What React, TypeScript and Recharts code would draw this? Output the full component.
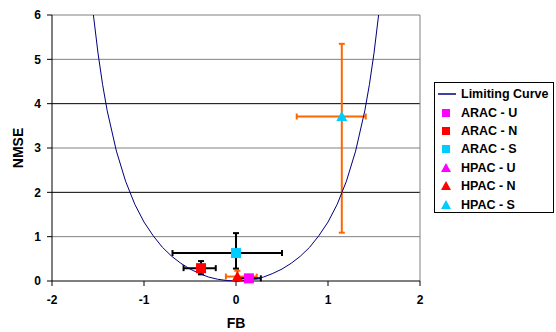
import React from "react";
import {
  ErrorBar,
  ReferenceLine,
  Scatter,
  ScatterChart,
  XAxis,
  YAxis,
} from "recharts";

// limiting curve (FB, NMSE)
const curveFB = [
  -1.55, -1.5, -1.45, -1.4, -1.3, -1.2, -1.1, -1.0, -0.9, -0.8, -0.7, -0.6, -0.5, -0.4, -0.3, -0.2, -0.1, 0,
  0.1, 0.2, 0.3, 0.4, 0.5, 0.6, 0.7, 0.8, 0.9, 1.0, 1.1, 1.2, 1.3, 1.4, 1.45, 1.5, 1.55,
];
const curveNMSE = [
  6.0, 5.14, 4.43, 3.84, 2.93, 2.25, 1.73, 1.33, 1.02, 0.76, 0.56, 0.4, 0.27, 0.17, 0.09, 0.04, 0.01, 0,
  0.01, 0.04, 0.09, 0.17, 0.27, 0.4, 0.56, 0.76, 1.02, 1.33, 1.73, 2.25, 2.93, 3.84, 4.43, 5.14, 6.0,
];

// model points: [FB, NMSE], error bars as [below, above]
const aracU = { fb: 0.14, nmse: 0.06, fbErr: [0.12, 0.13], nmseErr: [0.03, 0.03] };
const aracN = { fb: -0.38, nmse: 0.29, fbErr: [0.19, 0.16], nmseErr: [0.14, 0.16] };
const aracS = { fb: 0.0, nmse: 0.63, fbErr: [0.69, 0.5], nmseErr: [0.35, 0.45] };
const hpacN = { fb: 0.015, nmse: 0.1, fbErr: [0.125, 0.21], nmseErr: [0.05, 0.13] };
const hpacS = { fb: 1.15, nmse: 3.71, fbErr: [0.49, 0.26], nmseErr: [2.62, 1.64] };

const xTicks = [-2, -1, 0, 1, 2];
const yTicks = [0, 1, 2, 3, 4, 5, 6];

const FONT = "'Liberation Sans', Arial, sans-serif";

const curveData = curveFB.map((x, i) => ({ x, y: curveNMSE[i] }));
const pt = (p: typeof aracU) => [{ x: p.fb, y: p.nmse, ex: p.fbErr, ey: p.nmseErr }];

const legendItems = [
  { name: "Limiting Curve", kind: "line", color: "#000080" },
  { name: "ARAC - U", kind: "square", color: "#FF00FF" },
  { name: "ARAC - N", kind: "square", color: "#FF0000" },
  { name: "ARAC - S", kind: "square", color: "#00CCFF" },
  { name: "HPAC - U", kind: "triangle", color: "#FF00FF" },
  { name: "HPAC - N", kind: "triangle", color: "#FF0000" },
  { name: "HPAC - S", kind: "triangle", color: "#00CCFF" },
];

const square = (color: string) => (props: any) => (
  <rect x={props.cx - 5} y={props.cy - 5} width={10} height={10} fill={color} />
);
const triangle = (color: string) => (props: any) => (
  <polygon
    points={`${props.cx},${props.cy - 5.5} ${props.cx + 5.5},${props.cy + 4.5} ${props.cx - 5.5},${props.cy + 4.5}`}
    fill={color}
  />
);
const noDot = () => <g />;

function LegendBox() {
  return (
    <div
      style={{
        position: "absolute",
        left: 434,
        top: 82,
        border: "1px solid #000",
        background: "#fff",
        width: 120,
        height: 131,
        boxSizing: "border-box",
        padding: "2px 0 0 3px",
        fontFamily: FONT,
        fontWeight: "bold",
        fontSize: 12.5,
      }}
    >
      {legendItems.map((it) => (
        <div key={it.name} style={{ display: "flex", alignItems: "center", height: 18.4 }}>
          <svg width={21} height={12} style={{ marginRight: 2 }}>
            {it.kind === "line" && <line x1={0} y1={6} x2={18} y2={6} stroke={it.color} strokeWidth={1.5} />}
            {it.kind === "square" && <rect x={4} y={2} width={8} height={8} fill={it.color} />}
            {it.kind === "triangle" && <polygon points="8,1 13,10 3,10" fill={it.color} />}
          </svg>
          <span>{it.name}</span>
        </div>
      ))}
    </div>
  );
}

const bars = (color: string) => [
  <ErrorBar key="x" dataKey="ex" direction="x" stroke={color} strokeWidth={2} width={3} />,
  <ErrorBar key="y" dataKey="ey" direction="y" stroke={color} strokeWidth={2} width={3} />,
];

export default function App() {
  const gridColor = (v: number) => (v % 2 === 0 ? "#000" : "#808080");
  return (
    <div style={{ position: "absolute", left: 0, top: 0, width: 556, height: 332, background: "#fff" }}>
      <ScatterChart width={556} height={332} margin={{ top: 15, right: 136, bottom: 0, left: 0 }}>
        <XAxis
          type="number"
          dataKey="x"
          domain={[-2, 2]}
          ticks={xTicks}
          height={51}
          stroke="#000"
          tickSize={5}
          tickMargin={9}
          tick={{ fill: "#000", fontSize: 12, fontWeight: "bold", fontFamily: FONT }}
          label={{
            value: "FB",
            position: "insideBottom",
            offset: 4,
            fill: "#000",
            fontSize: 14,
            fontWeight: "bold",
            fontFamily: FONT,
          }}
        />
        <YAxis
          type="number"
          dataKey="y"
          domain={[0, 6]}
          ticks={yTicks}
          width={52}
          stroke="#000"
          tickSize={5}
          tickMargin={6}
          tick={{ fill: "#000", fontSize: 12, fontWeight: "bold", fontFamily: FONT }}
          label={(p: any) => {
            const vb = p.viewBox;
            const cy = vb.y + vb.height / 2;
            return (
              <text
                x={18}
                y={cy}
                transform={`rotate(-90, 18, ${cy})`}
                textAnchor="middle"
                dominantBaseline="central"
                fill="#000"
                fontSize={14}
                fontWeight="bold"
                fontFamily={FONT}
              >
                NMSE
              </text>
            );
          }}
        />
        {yTicks.slice(1).map((v) => (
          <ReferenceLine key={v} y={v} stroke={gridColor(v === 6 ? 1 : v)} strokeWidth={1} />
        ))}
        <ReferenceLine x={2} stroke="#808080" strokeWidth={1} />
        <Scatter
          data={curveData}
          line={{ stroke: "#000080", strokeWidth: 1 }}
          lineType="joint"
          shape={noDot}
          isAnimationActive={false}
        />
        <Scatter data={pt(hpacS)} shape={triangle("#00CCFF")} isAnimationActive={false}>
          {bars("#FF6600")}
        </Scatter>
        <Scatter data={pt(hpacN)} shape={triangle("#FF0000")} isAnimationActive={false}>
          {bars("#FF6600")}
        </Scatter>
        <Scatter data={pt(aracS)} shape={square("#00CCFF")} isAnimationActive={false}>
          {bars("#000")}
        </Scatter>
        <Scatter data={pt(aracN)} shape={square("#FF0000")} isAnimationActive={false}>
          {bars("#000")}
        </Scatter>
        <Scatter data={pt(aracU)} shape={square("#FF00FF")} isAnimationActive={false}>
          {bars("#000")}
        </Scatter>
      </ScatterChart>
      <LegendBox />
    </div>
  );
}
